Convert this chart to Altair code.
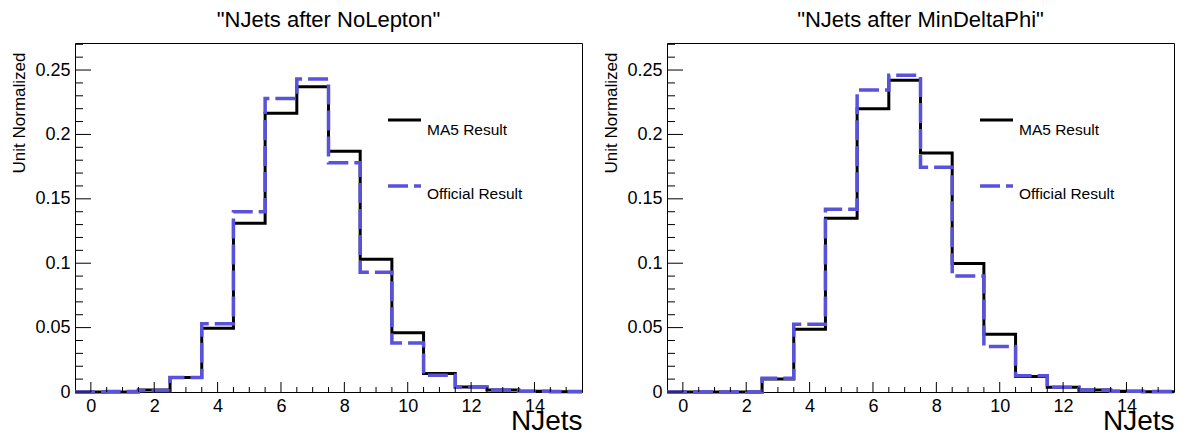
import altair as alt
import pandas as pd

# ---------------- data ----------------
bins = list(range(16))  # NJets bin centres, bin width 1

left_title = '"NJets after NoLepton"'
left_ma5 = [0, 0, 0.0015, 0.0113, 0.0495, 0.131, 0.2165, 0.237, 0.187, 0.103,
            0.046, 0.0144, 0.0039, 0.0015, 0.0005, 0.0002]
left_official = [0, 0.0003, 0.0012, 0.0113, 0.053, 0.140, 0.228, 0.243, 0.178,
                 0.093, 0.038, 0.013, 0.0039, 0.0015, 0.0005, 0.0003]

right_title = '"NJets after MinDeltaPhi"'
right_ma5 = [0, 0, 0, 0.010, 0.0487, 0.135, 0.220, 0.242, 0.1856, 0.0997,
             0.0448, 0.0121, 0.0036, 0.0015, 0.0005, 0.0002]
right_official = [0, 0, 0, 0.0106, 0.0526, 0.142, 0.2345, 0.246, 0.1745, 0.090,
                  0.0353, 0.0126, 0.0036, 0.0015, 0.0005, 0.0003]

series_names = ["MA5 Result", "Official Result"]

x_major_ticks = [0, 2, 4, 6, 8, 10, 12, 14]
x_minor_ticks = [0.5, 1, 1.5, 2.5, 3, 3.5, 4.5, 5, 5.5, 6.5, 7, 7.5, 8.5, 9,
                 9.5, 10.5, 11, 11.5, 12.5, 13, 13.5, 14.5, 15]
y_major_ticks = [0, 0.05, 0.1, 0.15, 0.2, 0.25]
y_minor_ticks = [0.01, 0.02, 0.03, 0.04, 0.06, 0.07, 0.08, 0.09, 0.11, 0.12,
                 0.13, 0.14, 0.16, 0.17, 0.18, 0.19, 0.21, 0.22, 0.23, 0.24,
                 0.26, 0.27]

# ---------------- styling ----------------
FONT = "Liberation Sans"
BLUE = "#5a52db"
W, H = 507, 349


def hist_frame(values):
    edges = [b - 0.5 for b in bins] + [bins[-1] + 0.5]
    vals = list(values) + [values[-1]]
    return pd.DataFrame({"edge": edges, "value": vals})


def panel(title, ma5, official):
    xenc = alt.X(
        "edge:Q",
        scale=alt.Scale(domain=[-0.5, 15.5], nice=False, zero=False),
        axis=alt.Axis(values=x_major_ticks, format="d", title="NJets",
                      domain=False, ticks=False, tickSize=0, grid=False,
                      labelPadding=5, labelFontSize=18, labelFont=FONT,
                      labelColor="black", titleFont=FONT, titleFontSize=28,
                      titleFontWeight="normal", titleColor="black",
                      titleAnchor="end", titleAlign="right",
                      titleBaseline="alphabetic", titleY=37),
    )
    yenc = alt.Y(
        "value:Q",
        scale=alt.Scale(domain=[0, 0.271], nice=False, zero=True),
        axis=alt.Axis(values=y_major_ticks, format=".2~f",
                      title="Unit Normalized", domain=False, ticks=False,
                      tickSize=0, grid=False, labelPadding=5,
                      labelFontSize=18, labelFont=FONT, labelColor="black",
                      titleFont=FONT, titleFontSize=17,
                      titleFontWeight="normal", titleColor="black",
                      titleAnchor="end", titleAlign="right",
                      titleBaseline="middle", titleX=-56, titleY=9),
    )

    ma5_line = alt.Chart(hist_frame(ma5)).mark_line(
        interpolate="step-after", color="black", strokeWidth=3
    ).encode(x=xenc, y=yenc)

    off_line = alt.Chart(hist_frame(official)).mark_line(
        interpolate="step-after", color=BLUE, strokeWidth=3.5,
        strokeDash=[20, 6]
    ).encode(x=xenc, y=yenc)

    y_major = alt.Chart(pd.DataFrame({"value": y_major_ticks})).mark_rule(
        color="black", strokeWidth=1
    ).encode(y=yenc, x=alt.value(0), x2=alt.value(16))
    y_minor = alt.Chart(pd.DataFrame({"value": y_minor_ticks})).mark_rule(
        color="black", strokeWidth=1
    ).encode(y=yenc, x=alt.value(0), x2=alt.value(8))
    x_major = alt.Chart(pd.DataFrame({"edge": x_major_ticks})).mark_rule(
        color="black", strokeWidth=1
    ).encode(x=xenc, y=alt.value(H), y2=alt.value(H - 10))
    x_minor = alt.Chart(pd.DataFrame({"edge": x_minor_ticks})).mark_rule(
        color="black", strokeWidth=1
    ).encode(x=xenc, y=alt.value(H), y2=alt.value(H - 5))

    leg_df = pd.DataFrame({"label": series_names})
    leg_ma5_line = alt.Chart(leg_df.iloc[[0]]).mark_rule(
        color="black", strokeWidth=3
    ).encode(x=alt.value(313), x2=alt.value(346), y=alt.value(77))
    leg_ma5_text = alt.Chart(leg_df.iloc[[0]]).mark_text(
        align="left", baseline="alphabetic", font=FONT, fontSize=15.5,
        color="black"
    ).encode(text="label:N", x=alt.value(352), y=alt.value(92))
    leg_off_line = alt.Chart(leg_df.iloc[[1]]).mark_rule(
        color=BLUE, strokeWidth=3.5, strokeDash=[20, 6]
    ).encode(x=alt.value(313), x2=alt.value(346), y=alt.value(143))
    leg_off_text = alt.Chart(leg_df.iloc[[1]]).mark_text(
        align="left", baseline="alphabetic", font=FONT, fontSize=15.5,
        color="black"
    ).encode(text="label:N", x=alt.value(352), y=alt.value(156))

    return alt.layer(
        ma5_line, off_line, y_major, y_minor, x_major, x_minor,
        leg_ma5_line, leg_ma5_text, leg_off_line, leg_off_text
    ).properties(
        width=W, height=H,
        title=alt.TitleParams(title, font=FONT, fontSize=22,
                              fontWeight="normal", color="black",
                              anchor="middle", baseline="top", offset=11),
    )


chart = alt.hconcat(
    panel(left_title, left_ma5, left_official),
    panel(right_title, right_ma5, right_official),
    spacing=11,
).properties(
    padding={"left": 1, "top": 0, "right": -5, "bottom": 0},
    background="white",
).configure_view(
    stroke="black", strokeWidth=1
)

chart.save("out.html", embed_options={"renderer": "svg", "actions": False})
